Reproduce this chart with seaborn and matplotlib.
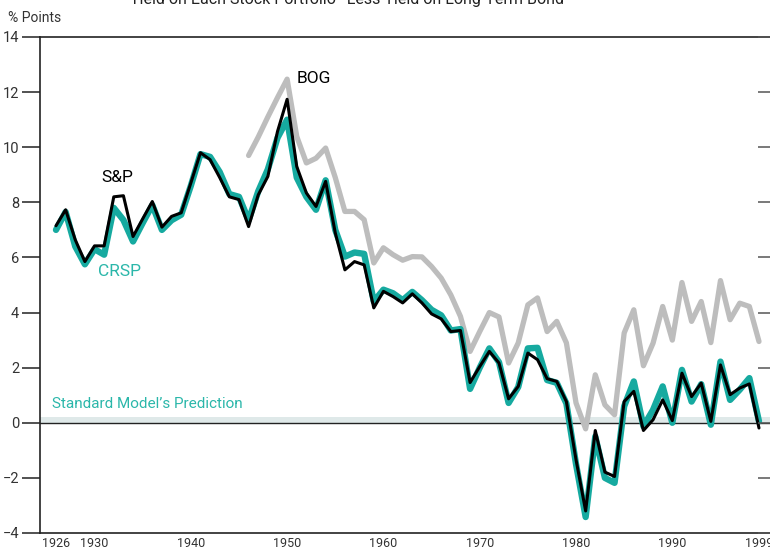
import matplotlib
matplotlib.use("Agg")
import matplotlib.pyplot as plt
import seaborn as sns
import numpy as np
import pandas as pd

years = list(range(1926, 2000))
sp = [7.15, 7.73, 6.64, 5.85, 6.42, 6.42, 8.20, 8.24, 6.76, 7.40,
      8.03, 7.10, 7.49, 7.62, 8.70, 9.80, 9.55, 8.90, 8.20, 8.10,
      7.12, 8.27, 8.94, 10.57, 11.74, 9.30, 8.34, 7.85, 8.76, 6.89,
      5.55, 5.85, 5.73, 4.17, 4.77, 4.58, 4.35, 4.68, 4.35, 3.95,
      3.77, 3.31, 3.35, 1.46, 2.04, 2.59, 2.17, 0.87, 1.32, 2.53,
      2.29, 1.60, 1.50, 0.77, -1.34, -3.20, -0.28, -1.79, -1.95, 0.77,
      1.14, -0.28, 0.11, 0.83, 0.08, 1.80, 0.95, 1.44, 0.05, 2.10,
      1.02, 1.26, 1.41, -0.19]
crsp = [7.00, 7.65, 6.40, 5.75, 6.30, 6.10, 7.80, 7.36, 6.58, 7.25,
        7.90, 7.00, 7.35, 7.55, 8.60, 9.75, 9.65, 9.10, 8.30, 8.20,
        7.35, 8.40, 9.20, 10.34, 11.00, 8.90, 8.20, 7.73, 8.80, 7.00,
        6.03, 6.18, 6.13, 4.40, 4.83, 4.70, 4.45, 4.75, 4.45, 4.10,
        3.90, 3.35, 3.40, 1.23, 2.00, 2.70, 2.20, 0.72, 1.30, 2.70,
        2.72, 1.55, 1.45, 0.70, -1.50, -3.42, -0.50, -2.00, -2.18, 0.60,
        1.50, -0.13, 0.47, 1.32, 0.00, 1.92, 0.77, 1.40, -0.07, 2.22,
        0.83, 1.20, 1.62, 0.05]
bog_years = list(range(1946, 2000))
bog = [9.70, 10.37, 11.10, 11.80, 12.47, 10.39, 9.43, 9.60, 9.97, 8.90,
       7.67, 7.67, 7.37, 5.80, 6.35, 6.10, 5.90, 6.03, 6.02, 5.67,
       5.25, 4.64, 3.86, 2.59, 3.31, 4.00, 3.84, 2.17, 2.90, 4.28,
       4.53, 3.31, 3.68, 2.90, 0.72, -0.22, 1.74, 0.65, 0.29, 3.26,
       4.10, 2.07, 2.89, 4.22, 3.00, 5.09, 3.68, 4.40, 2.91, 5.16,
       3.74, 4.34, 4.22, 2.95]
xticks = [1926, 1930, 1940, 1950, 1960, 1970, 1980, 1990, 1999]
yticks = [-4, -2, 0, 2, 4, 6, 8, 10, 12, 14]
band_low, band_high = 0.0, 0.2

sns.set_theme(style="white")
plt.rcParams['font.family'] = ['Roboto', 'DejaVu Sans']

TEAL = "#16aaa0"
TEAL_TXT = "#2bb7aa"
GRAY = "#bdbdbd"

df_main = pd.DataFrame({"year": years * 2,
                        "value": sp + crsp,
                        "series": ["S&P"] * len(years) + ["CRSP"] * len(years)})
df_bog = pd.DataFrame({"year": bog_years, "value": bog})

fig = plt.figure(figsize=(7.7, 5.5), dpi=100)
ax = fig.add_axes([40 / 770, 17 / 550, 732 / 770, 496 / 550])

ax.axhspan(band_low, band_high, color="#dfe9e9", zorder=1, lw=0)
ax.axhline(0, color="#222222", lw=1.0, zorder=2)

sns.lineplot(data=df_bog, x="year", y="value", color=GRAY, lw=3.8, ax=ax,
             zorder=3, legend=False)
sns.lineplot(data=df_main[df_main.series == "CRSP"], x="year", y="value",
             color=TEAL, lw=4.6, ax=ax, zorder=4, legend=False)
sns.lineplot(data=df_main[df_main.series == "S&P"], x="year", y="value",
             color="black", lw=2.2, ax=ax, zorder=5, legend=False)

x0 = 1926 - 16 / 9.63
x1 = 1926 + (772 - 56) / 9.63
ax.set_xlim(x0, x1)
ax.set_ylim(-4, 14)
ax.set_xticks(xticks)
ax.set_xticklabels([str(t) for t in xticks])
ax.set_yticks(yticks)
ax.set_yticklabels([("\u2212" + str(-t)) if t < 0 else str(t) for t in yticks])
ax.set_xlabel("")
ax.set_ylabel("")

for s in ["left", "bottom", "top"]:
    ax.spines[s].set_color("#222222")
    ax.spines[s].set_linewidth(1.2)
ax.spines["right"].set_visible(False)

ax.tick_params(axis="x", direction="in", length=14, width=1.1, color="#222222",
               labelsize=9, pad=3, labelcolor="#333333")
ax.tick_params(axis="y", direction="out", length=13, width=1.1, color="#222222",
               labelsize=10.5, pad=2, labelcolor="#333333", left=True,
               right=False)
# right-side inward ticks
axr = ax.twinx()
axr.set_ylim(-4, 14)
axr.set_yticks(yticks)
axr.set_yticklabels([])
axr.tick_params(axis="y", direction="in", length=10, width=1.1, color="#555555")
for s in axr.spines.values():
    s.set_visible(False)
axr.grid(False)

fig.text(347 / 770, 1 + 1 / 550, "Yield on Each Stock Portfolio* Less Yield on Long-Term Bond",
         ha="center", va="center", fontsize=11.5, color="#222222")
fig.text(8 / 770, 1 - 18 / 550, "% Points", ha="left", va="center",
         fontsize=10, color="#333333")

ax.text(1930.7, 8.9, "S&P", fontsize=12.5, color="black", ha="left", va="center")
ax.text(1951.0, 12.5, "BOG", fontsize=12.5, color="black", ha="left", va="center")
ax.text(1930.4, 5.5, "CRSP", fontsize=12.5, color=TEAL_TXT, ha="left", va="center")
ax.text(1925.6, 0.68, "Standard Model\u2019s Prediction", fontsize=11,
        color=TEAL_TXT, ha="left", va="center")

fig.savefig("out.png", dpi=100)
